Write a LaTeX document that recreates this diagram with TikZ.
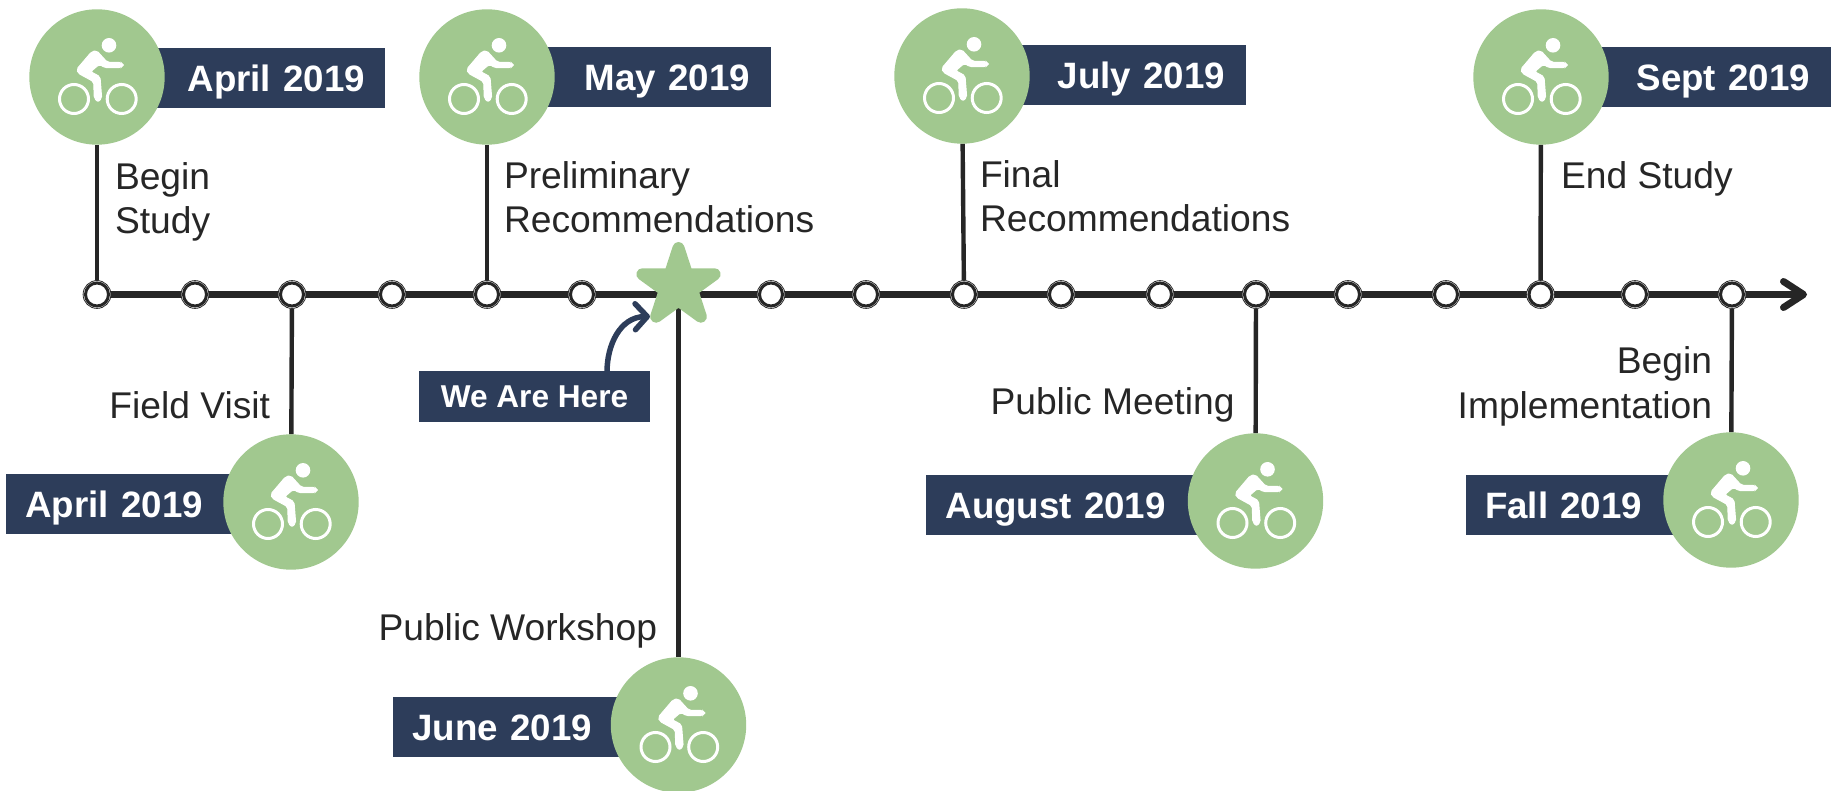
\documentclass[tikz,border=0pt]{standalone}
\usepackage{fontspec}
\setmainfont{Liberation Sans}
\usetikzlibrary{shapes.geometric,arrows.meta,backgrounds}
\definecolor{navy}{HTML}{2D3D5A}
\definecolor{leaf}{HTML}{A1C88F}
\definecolor{ink}{HTML}{262626}
\tikzset{
  disc/.style={circle,fill=leaf,minimum size=135.4pt,inner sep=0pt,outer sep=0pt},
  ticknode/.style={circle,draw=ink,fill=white,line width=0.8pt,minimum size=27.8pt,inner sep=0pt,outer sep=0pt,
    path picture={\draw[ink,line width=3pt] (path picture bounding box.center) circle[radius=11.5];}},
  bannerbase/.style={fill=navy,text=white,inner ysep=0pt,outer sep=0pt,minimum height=60pt,
    text height=26.5pt,text depth=0pt,font=\fontsize{36.7}{45}\selectfont\bfseries},
  bannerR/.style={bannerbase,inner xsep=21pt,anchor=east,align=right,text width=#1-42pt},
  bannerL/.style={bannerbase,inner xsep=19.5pt,anchor=west,align=left,text width=#1-39pt},
  lbl/.style={text=ink,inner sep=0pt,outer sep=0pt,font=\fontsize{37.2}{44.6}\selectfont},
  spoke/.style={ink,line width=4.4pt},
  pics/bike/.style={code={
    \fill[white] (12,-31.7) circle[radius=7.3];
    \draw[white,line width=3pt] (-23,22) circle[radius=14.5];
    \draw[white,line width=3pt] (24.7,22) circle[radius=14.5];
    \filldraw[white,line width=1pt,rounded corners=2pt] (-5.3,-25.3) -- (-0.3,-26.3) -- (10.3,-14.7) -- (23.7,-14.7) -- (26.3,-12) -- (23.7,-9.3) -- (8,-9.3) -- (2.3,-12.7) -- (-6.3,-5.3) -- (3,-0.3) -- (4.7,21.3) -- (1,25) -- (-2.7,21.3) -- (-3.3,4.7) -- (-18.7,-3.7) -- (-20.3,-7.7) -- cycle;
  }}
}
\begin{document}
\begin{tikzpicture}[x=1pt,y=-1pt]
\useasboundingbox (0,0) rectangle (1831,791);
% banners
\node[bannerR=288pt,inner xsep=20pt,text width=248pt] (b1) at (385,78) {April 2019};
\node[bannerR=284pt] (b2) at (771,77) {May 2019};
\node[bannerR=284pt] (b3) at (1246,75.5) {July 2019};
\node[bannerR=290pt] (b4) at (1831,77.5) {Sept 2019};
\node[bannerL=285pt] (b5) at (6,504) {April 2019};
\node[bannerL=329pt] (b6) at (926,505) {August 2019};
\node[bannerL=266pt] (b7) at (1465.5,505) {Fall 2019};
\node[bannerL=285pt] (b8) at (393,727) {June 2019};
% discs
\foreach \n/\x/\y in {c1/97/77,c2/487/77,c3/962/76,c4/1541/77,c5/291/502,c6/1255.5/501,c7/1731/500,c8/678.5/725}{
  \node[disc] (\n) at (\x,\y) {};
  \pic at (\n) {bike};
}
% ticks
\foreach \n/\x in {t1/97,t2/195,t3/292,t4/392,t5/487,t6/582,t7/771,t8/866,t9/964,t10/1061,t11/1160,t12/1256,t13/1348,t14/1446,t15/1540.5,t16/1635,t17/1732}{
  \node[ticknode] (\n) at (\x,294.5) {};
}
\coordinate (tip) at (1807,294.5);
% star
\node[star,star points=5,star point ratio=2.618,minimum size=76pt,inner sep=0pt,outer sep=0pt,fill=leaf,draw=leaf,line width=12pt,line join=round] (st) at (678.5,286) {};
% we are here
\node[fill=navy,text=white,minimum width=231pt,minimum height=51pt,inner sep=0pt,outer sep=0pt,text height=22.6pt,text depth=0pt,font=\fontsize{31.6}{36}\selectfont\bfseries] (here) at (534.5,396.5) {We Are Here};
\coordinate (hs) at (607,372);
\coordinate (he) at (650,316.5);
% labels
\node[lbl,anchor=base west,align=left] (l1) at (115,234) {Begin\\Study};
\node[lbl,anchor=base west,align=left] (l2) at (504,233) {Preliminary\\Recommendations};
\node[lbl,anchor=base west,align=left] (l3) at (980,232) {Final\\Recommendations};
\node[lbl,anchor=base west] (l4) at (1561,188.5) {End Study};
\node[lbl,anchor=base east] (l5) at (270,418) {Field Visit};
\node[lbl,anchor=base east] (l6) at (657,640.5) {Public Workshop};
\node[lbl,anchor=base east] (l7) at (1234.5,414) {Public Meeting};
\node[lbl,anchor=base east,align=right] (l8) at (1712,418) {Begin\\Implementation};
% connectors
\begin{scope}[on background layer]
\draw[ink,line width=7pt,-{Straight Barb[round,length=20pt,width=26pt]}] (t1.center) -- (tip);
\draw[spoke] (c1) -- (t1);
\draw[spoke] (c2) -- (t5);
\draw[spoke] (c3) -- (t9);
\draw[spoke] (c4) -- (t15);
\draw[spoke] (c5) -- (t3);
\draw[spoke] (c6) -- (t12);
\draw[spoke] (c7) -- (t17);
\draw[spoke] (c8) -- (st.center);
\end{scope}
\draw[navy,line width=5.5pt,-{Straight Barb[round,length=12pt,width=26pt]}] (hs) .. controls (607,345) and (620,317) .. (he);
\end{tikzpicture}
\end{document}
